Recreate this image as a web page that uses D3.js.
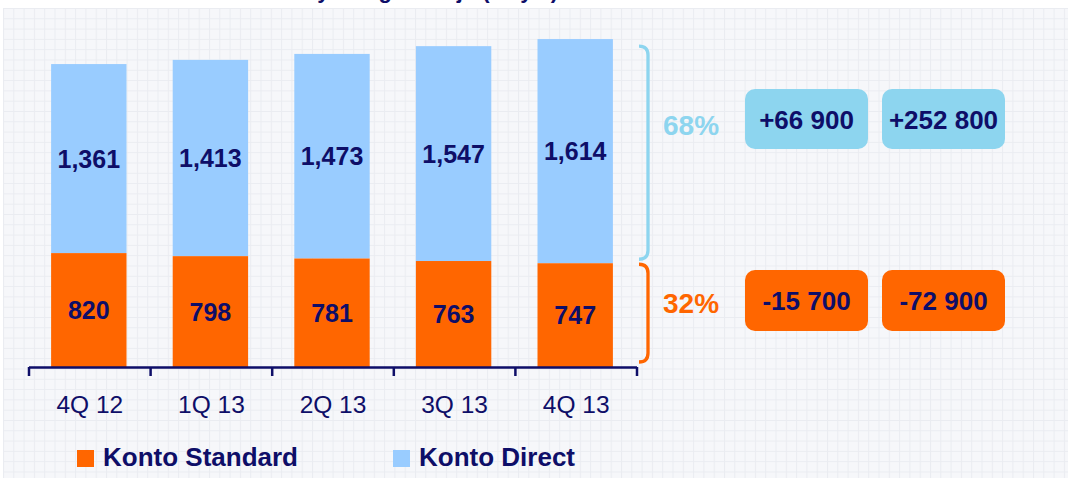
<!DOCTYPE html>
<html>
<head>
<meta charset="utf-8">
<script src="https://cdn.jsdelivr.net/npm/d3@7"></script>
<style>
	html, body { margin: 0; padding: 0; background: #ffffff; }
	svg { display: block; font-family: "Liberation Sans", Arial, sans-serif; }
</style>
</head>
<body>
<svg id="chart"></svg>
<script>
'use strict';

// Data
var quarters = ['4Q 12', '1Q 13', '2Q 13', '3Q 13', '4Q 13'];
var kontoStandard = [820, 798, 781, 763, 747];
var kontoDirect = [1361, 1413, 1473, 1547, 1614];
var seriesNames = ['Konto Standard', 'Konto Direct'];
var shareLabels = ['68%', '32%'];
var directChanges = ['+66 900', '+252 800'];
var standardChanges = ['-15 700', '-72 900'];
var titleText = 'Liczba kont osobistych wg rodzaju (w tys.)';

var width = 1068, height = 478;
var navy = '#0e0e68', orange = '#ff6600', lightBlue = '#99ccff', cyan = '#8dd5ef';

var svg = d3.select('#chart')
	.attr('width', width)
	.attr('height', height);

// Grid background
var defs = svg.append('defs');
var pattern = defs.append('pattern')
	.attr('id', 'grid')
	.attr('patternUnits', 'userSpaceOnUse')
	.attr('x', 3)
	.attr('y', 8)
	.attr('width', 10.3)
	.attr('height', 10.3);
pattern.append('rect')
	.attr('width', 10.3)
	.attr('height', 10.3)
	.attr('fill', '#f6f7fa');
pattern.append('path')
	.attr('d', 'M0,0.5H10.3M0.5,0V10.3')
	.attr('stroke', '#eaecf1')
	.attr('stroke-width', 1)
	.attr('fill', 'none');

svg.append('rect')
	.attr('x', 3)
	.attr('y', 8)
	.attr('width', width - 3)
	.attr('height', height - 8)
	.attr('fill', 'url(#grid)');

// Title (only its bottom edge shows above the chart, as in the source slide)
svg.append('text')
	.attr('x', 335)
	.attr('y', -2)
	.attr('text-anchor', 'middle')
	.attr('fill', navy)
	.style('font-size', '22px')
	.style('font-weight', 'bold')
	.text(titleText);

// Scales
var x = d3.scaleBand()
	.domain(quarters)
	.range([29, 637])
	.paddingInner(0.38)
	.paddingOuter(0.19);

var y = d3.scaleLinear()
	.domain([0, 2400])
	.range([367, 367 - 2400 * 0.1389]);

var data = quarters.map(function(q, i) {
	return {q: q, standard: kontoStandard[i], direct: kontoDirect[i]};
});

// Bars
var bars = svg.append('g').selectAll('g')
	.data(data)
	.enter().append('g');

bars.append('rect')
	.attr('x', function(d) { return x(d.q) - 1; })
	.attr('width', x.bandwidth())
	.attr('y', function(d) { return y(d.standard + d.direct); })
	.attr('height', function(d) { return y(d.standard) - y(d.standard + d.direct); })
	.attr('fill', lightBlue);

bars.append('rect')
	.attr('x', function(d) { return x(d.q) - 1; })
	.attr('width', x.bandwidth())
	.attr('y', function(d) { return y(d.standard); })
	.attr('height', function(d) { return y(0) - y(d.standard); })
	.attr('fill', orange);

// Value labels
var fmt = d3.format(',');
bars.append('text')
	.attr('x', function(d) { return x(d.q) - 1 + x.bandwidth() / 2; })
	.attr('y', function(d) { return (y(d.standard + d.direct) + y(d.standard)) / 2 + 9; })
	.attr('text-anchor', 'middle')
	.attr('fill', navy)
	.style('font-size', '25px')
	.style('font-weight', 'bold')
	.text(function(d) { return fmt(d.direct); });

bars.append('text')
	.attr('x', function(d) { return x(d.q) - 1 + x.bandwidth() / 2; })
	.attr('y', function(d) { return (y(d.standard) + y(0)) / 2 + 9; })
	.attr('text-anchor', 'middle')
	.attr('fill', navy)
	.style('font-size', '25px')
	.style('font-weight', 'bold')
	.text(function(d) { return fmt(d.standard); });

// Axis with ticks between categories
var axis = svg.append('g').attr('class', 'axis_x');
axis.append('line')
	.attr('x1', x.range()[0])
	.attr('x2', x.range()[1])
	.attr('y1', y(0) + 0.5)
	.attr('y2', y(0) + 0.5)
	.attr('stroke', navy)
	.attr('stroke-width', 2.5);

axis.selectAll('.tick')
	.data(d3.range(quarters.length + 1))
	.enter().append('line')
	.attr('class', 'tick')
	.attr('x1', function(i) { return x.range()[0] + i * x.step(); })
	.attr('x2', function(i) { return x.range()[0] + i * x.step(); })
	.attr('y1', y(0))
	.attr('y2', y(0) + 9)
	.attr('stroke', navy)
	.attr('stroke-width', 2.5);

axis.selectAll('.label')
	.data(quarters)
	.enter().append('text')
	.attr('class', 'label')
	.attr('x', function(d) { return x(d) + x.bandwidth() / 2; })
	.attr('y', 413)
	.attr('text-anchor', 'middle')
	.attr('fill', navy)
	.style('font-size', '24.5px')
	.text(function(d) { return d; });

// Brackets next to last bar
var last = data[data.length - 1];
function bracket(top, bottom, color) {
	var xl = 639, xr = 648, r = 9;
	svg.append('path')
		.attr('d', 'M' + xl + ',' + top +
			'Q' + xr + ',' + top + ' ' + xr + ',' + (top + r) +
			'V' + (bottom - r) +
			'Q' + xr + ',' + bottom + ' ' + xl + ',' + bottom)
		.attr('fill', 'none')
		.attr('stroke', color)
		.attr('stroke-width', 3.3);
}
bracket(y(last.standard + last.direct) + 7, y(last.standard) - 4, cyan);
bracket(y(last.standard) + 1, y(0) - 5, orange);

// Share labels
svg.append('text')
	.attr('x', 663)
	.attr('y', 135)
	.attr('fill', cyan)
	.style('font-size', '28px')
	.style('font-weight', 'bold')
	.text(shareLabels[0]);

svg.append('text')
	.attr('x', 663)
	.attr('y', 313)
	.attr('fill', orange)
	.style('font-size', '28px')
	.style('font-weight', 'bold')
	.text(shareLabels[1]);

// Change boxes
var boxX = [745, 882];
function boxes(labels, top, h, color) {
	var g = svg.append('g').selectAll('g')
		.data(labels)
		.enter().append('g');
	g.append('rect')
		.attr('x', function(d, i) { return boxX[i]; })
		.attr('y', top)
		.attr('width', 123)
		.attr('height', h)
		.attr('rx', 10)
		.attr('fill', color);
	g.append('text')
		.attr('x', function(d, i) { return boxX[i] + 61.5; })
		.attr('y', top + h / 2 + 9.5)
		.attr('text-anchor', 'middle')
		.attr('fill', navy)
		.style('font-size', '26px')
		.style('font-weight', 'bold')
		.text(function(d) { return d; });
}
boxes(directChanges, 89, 60, cyan);
boxes(standardChanges, 270, 61, orange);

// Legend
var legendX = [77, 393];
var legendColors = [orange, lightBlue];
var legend = svg.append('g').selectAll('g')
	.data(seriesNames)
	.enter().append('g');
legend.append('rect')
	.attr('x', function(d, i) { return legendX[i]; })
	.attr('y', 450)
	.attr('width', 17)
	.attr('height', 17)
	.attr('fill', function(d, i) { return legendColors[i]; });
legend.append('text')
	.attr('x', function(d, i) { return legendX[i] + 26; })
	.attr('y', 466)
	.attr('fill', navy)
	.style('font-size', '26px')
	.style('font-weight', 'bold')
	.text(function(d) { return d; });
</script>
</body>
</html>
